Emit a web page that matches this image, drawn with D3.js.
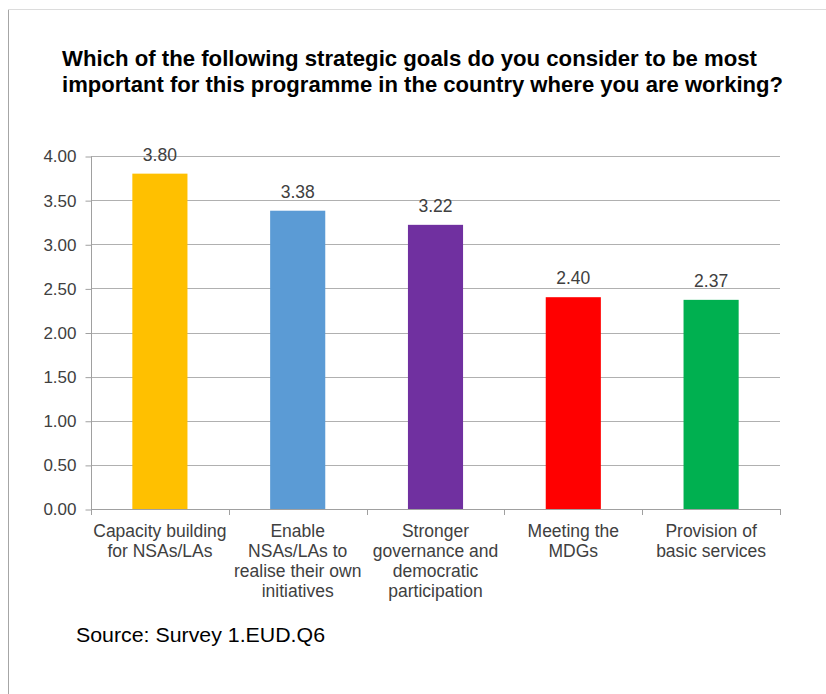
<!DOCTYPE html>
<html>
<head>
<meta charset="utf-8">
<script src="https://cdn.jsdelivr.net/npm/d3@7"></script>
<style>
  html, body { margin: 0; padding: 0; background: #fff; }
  svg { display: block; font-family: "Liberation Sans", Arial, sans-serif; }
</style>
</head>
<body>
<svg id="chart" width="826" height="694"></svg>
<script>
const titleLines = [
  "Which of the following strategic goals do you consider to be most",
  "important for this programme in the country where you are working?"
];
const categories = [
  "Capacity building\nfor NSAs/LAs",
  "Enable\nNSAs/LAs to\nrealise their own\ninitiatives",
  "Stronger\ngovernance and\ndemocratic\nparticipation",
  "Meeting the\nMDGs",
  "Provision of\nbasic services"
];
const values = [3.80, 3.38, 3.22, 2.40, 2.37];
const barColors = ["#FFC000", "#5B9BD5", "#7030A0", "#FF0000", "#00B050"];
const yTicks = [0, 0.5, 1, 1.5, 2, 2.5, 3, 3.5, 4];
const sourceText = "Source: Survey 1.EUD.Q6";

const svg = d3.select("#chart");

// frame
svg.append("line").attr("x1", 8.5).attr("x2", 8.5).attr("y1", 9).attr("y2", 694)
  .attr("stroke", "#a6a6a6").attr("stroke-width", 1);
svg.append("line").attr("x1", 8).attr("x2", 826).attr("y1", 9.5).attr("y2", 9.5)
  .attr("stroke", "#dcdcdc").attr("stroke-width", 1);

// title
svg.append("g").selectAll("text").data(titleLines).join("text")
  .attr("x", 62).attr("y", (d, i) => 66 + i * 26)
  .attr("font-size", 22).attr("font-weight", "bold").attr("fill", "#000")
  .attr("textLength", (d, i) => i === 0 ? 695 : 721).attr("lengthAdjust", "spacingAndGlyphs")
  .text(d => d);

const pLeft = 91, pRight = 780, pTop = 156, pBottom = 509;
const x = d3.scaleBand().domain(d3.range(categories.length)).range([pLeft, pRight])
  .paddingInner(0.6).paddingOuter(0.3);
const y = d3.scaleLinear().domain([0, 4]).range([pBottom, pTop]);

// gridlines
svg.append("g").selectAll("line").data(yTicks.filter(d => d > 0)).join("line")
  .attr("x1", pLeft).attr("x2", pRight)
  .attr("y1", d => Math.round(y(d)) + 0.5).attr("y2", d => Math.round(y(d)) + 0.5)
  .attr("stroke", "#b0b0b0").attr("stroke-width", 1);

// y axis
const yAxis = d3.axisLeft(y).tickValues(yTicks).tickFormat(d3.format(".2f"))
  .tickSize(6).tickPadding(9);
const yg = svg.append("g").attr("transform", `translate(${pLeft + 0.5},0.5)`).call(yAxis);
yg.select(".domain").attr("stroke", "#a0a0a0").attr("d", `M0,${pTop}V${pBottom}`);
yg.selectAll(".tick line").attr("stroke", "#a0a0a0");
yg.selectAll(".tick text").attr("font-size", 17).attr("fill", "#404040")
  .attr("font-family", "Liberation Sans, Arial, sans-serif");

// bars
svg.append("g").selectAll("rect").data(values).join("rect")
  .attr("x", (d, i) => x(i)).attr("width", x.bandwidth())
  .attr("y", d => y(d)).attr("height", d => y(0) - y(d))
  .attr("fill", (d, i) => barColors[i]);

// x axis
svg.append("line").attr("x1", pLeft).attr("x2", pRight)
  .attr("y1", pBottom + 0.5).attr("y2", pBottom + 0.5).attr("stroke", "#a0a0a0");
const bounds = d3.range(categories.length + 1).map(i => pLeft + i * x.step());
svg.append("g").selectAll("line").data(bounds).join("line")
  .attr("x1", d => Math.round(d) + 0.5).attr("x2", d => Math.round(d) + 0.5)
  .attr("y1", pBottom).attr("y2", pBottom + 6).attr("stroke", "#a0a0a0");

// category labels
const cg = svg.append("g");
categories.forEach((c, i) => {
  const t = cg.append("text").attr("text-anchor", "middle")
    .attr("font-size", 17.5).attr("fill", "#404040");
  c.split("\n").forEach((line, j) => {
    t.append("tspan").attr("x", x(i) + x.bandwidth() / 2).attr("y", 537 + j * 20).text(line);
  });
});

// value labels
svg.append("g").selectAll("text").data(values).join("text")
  .attr("x", (d, i) => x(i) + x.bandwidth() / 2).attr("y", d => y(d) - 13)
  .attr("text-anchor", "middle").attr("font-size", 17.5).attr("fill", "#404040")
  .text(d => d.toFixed(2));

// source
svg.append("text").attr("x", 76).attr("y", 642).attr("font-size", 21).attr("fill", "#000")
  .attr("textLength", 249).attr("lengthAdjust", "spacingAndGlyphs")
  .text(sourceText);
</script>
</body>
</html>
